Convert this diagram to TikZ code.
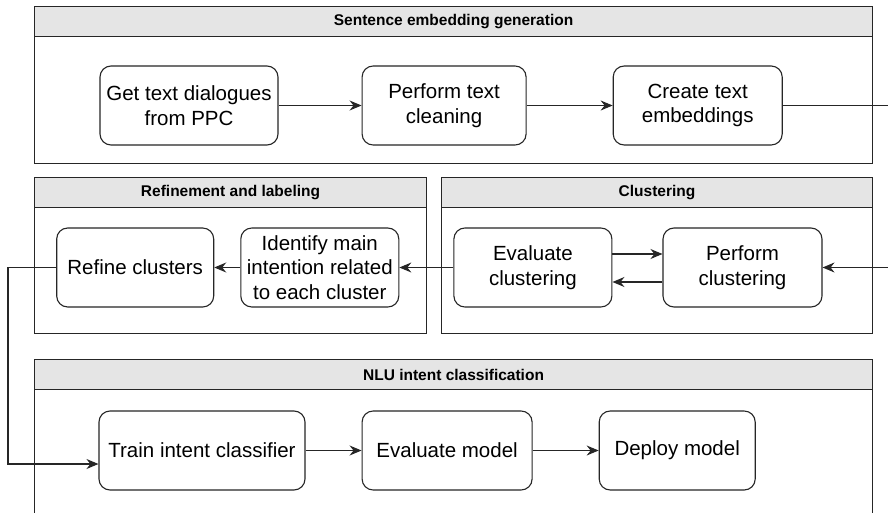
\documentclass[tikz,border=0pt]{standalone}
\usepackage{fontspec}
\setmainfont{Liberation Sans}
\usetikzlibrary{arrows.meta,positioning}

\begin{document}
\begin{tikzpicture}[
    x=1pt, y=-1pt,
    node distance=84pt,
    group/.style={rectangle, draw=black!85, line width=1.1pt, fill=white, anchor=north west, inner sep=0pt},
    grouphead/.style={rectangle, draw=black!85, line width=1.1pt, fill=black!10, anchor=north west, minimum height=30pt, inner sep=0pt, font=\fontsize{15.5}{18}\selectfont\bfseries},
    block/.style={rectangle, draw=black!85, line width=1.1pt, rounded corners=11pt, align=center, minimum height=79pt, inner sep=2pt, font=\fontsize{20.5}{24.5}\selectfont},
    line/.style={draw=black!85, line width=1.1pt, -{Stealth[length=12pt,width=10pt,inset=4pt]}},
    plain/.style={draw=black!85, line width=1.1pt}
]
\useasboundingbox (0,0) rectangle (888,513);

% containers
\node [group, minimum width=838pt, minimum height=157pt] (embedG) at (34,6) {};
\node [grouphead, minimum width=838pt] (embedH) at (embedG.north west) {Sentence embedding generation};
\node [group, minimum width=392pt, minimum height=156pt] (refineG) at (34,177) {};
\node [grouphead, minimum width=392pt] (refineH) at (refineG.north west) {Refinement and labeling};
\node [group, minimum width=431pt, minimum height=156pt] (clusterG) at (441,177) {};
\node [grouphead, minimum width=431pt] (clusterH) at (clusterG.north west) {Clustering};
\node [group, minimum width=838pt, minimum height=180pt] (nluG) at (34,359) {};
\node [grouphead, minimum width=838pt] (nluH) at (nluG.north west) {NLU intent classification};

% sentence embedding generation
\node [block, minimum width=178pt] (dialogues) at (189,105.5) {Get text dialogues\\from PPC};
\node [block, minimum width=164pt, right=83pt of dialogues] (cleaning) {Perform text\\cleaning};
\node [block, minimum width=169pt, right=86pt of cleaning] (embeddings) {Create text\\embeddings};

% clustering
\node [block, minimum width=159pt] (perform) at (742.5,267.5) {Perform\\clustering};
\node [block, minimum width=158pt, left=50pt of perform] (evalclust) {Evaluate\\clustering};

% refinement and labeling
\node [block, minimum width=158pt, left=54pt of evalclust] (identify) {Identify main\\intention related\\to each cluster};
\node [block, minimum width=157pt, left=26pt of identify] (refine) {Refine clusters};

% NLU intent classification
\node [block, minimum width=206pt] (train) at (202,450.5) {Train intent classifier};
\node [block, minimum width=170pt, right=56pt of train] (evalmodel) {Evaluate model};
\node [block, minimum width=156pt, right=66pt of evalmodel] (deploy) {Deploy model};

\coordinate (outR) at (900,0);
\coordinate (outL) at (8,0);

\path [line] (dialogues) -- (cleaning);
\path [line] (cleaning) -- (embeddings);
\path [line] (embeddings.east) -- (embeddings.east -| outR) |- (perform.east);
\path [line] ([yshift=13.5pt]evalclust.east) -- ([yshift=13.5pt]perform.west);
\path [line] ([yshift=-14.5pt]perform.west) -- ([yshift=-14.5pt]evalclust.east);
\path [line] (evalclust) -- (identify);
\path [line] (identify) -- (refine);
\path [line] (refine.west) -- (refine.west -| outL) |- ([yshift=-13.5pt]train.west);
\path [line] (train) -- (evalmodel);
\path [line] (evalmodel) -- (deploy);

\end{tikzpicture}
\end{document}
